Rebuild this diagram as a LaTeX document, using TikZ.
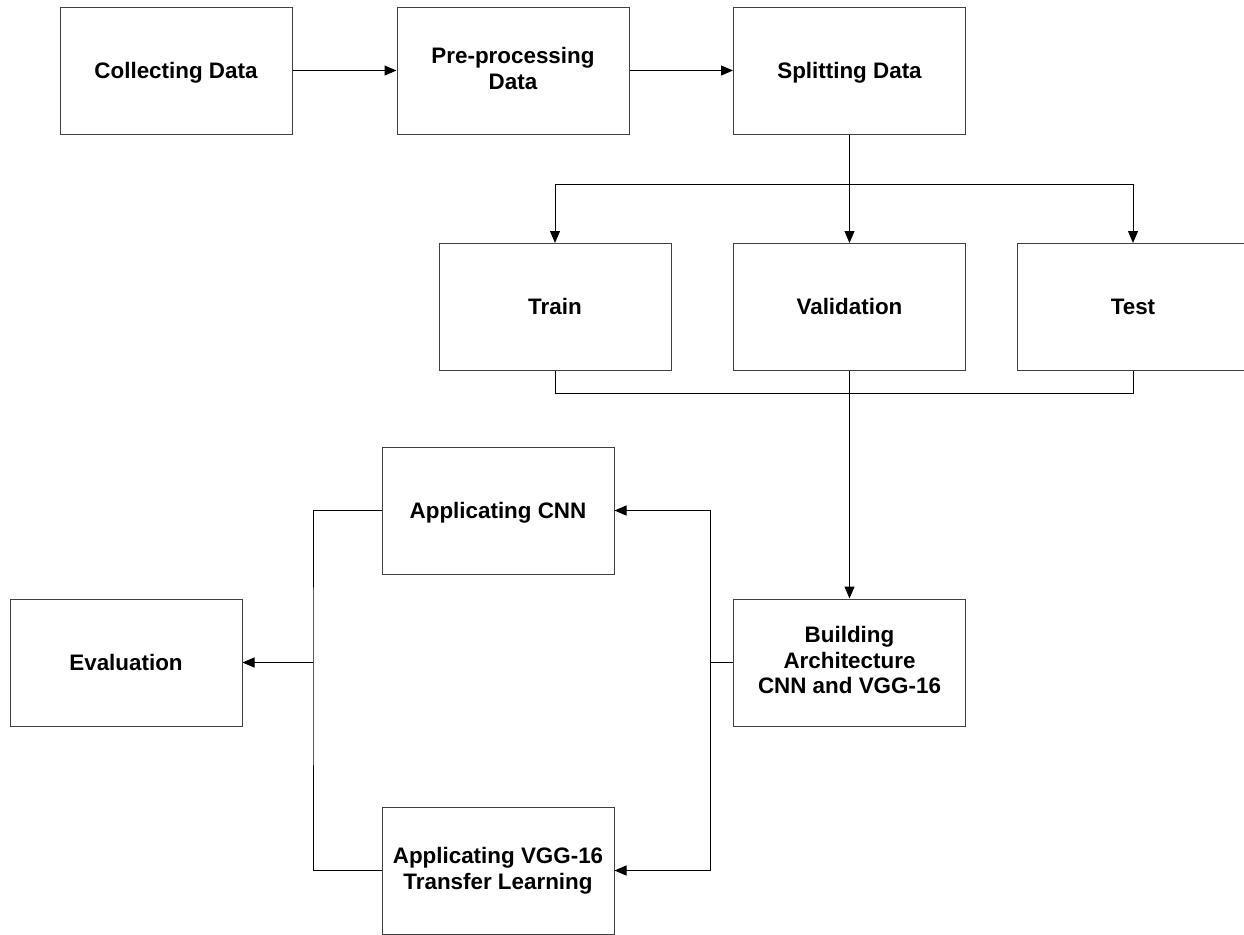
\documentclass[tikz,border=0pt]{standalone}
\usepackage{fontspec}
\setmainfont{Liberation Sans}
\usetikzlibrary{arrows.meta}
\begin{document}
\begin{tikzpicture}[x=0.5pt,y=-0.5pt,
  stage/.style={draw=black!75,line width=0.5pt,minimum width=116pt,minimum height=63.5pt,
    inner sep=0pt,align=center,font=\fontsize{11.2}{12.75}\selectfont\bfseries,
    execute at begin node={\rule{0pt}{0.905em}},
    execute at end node={\rule[-0.212em]{0pt}{0.212em}}},
  flow/.style={-{Triangle[length=6pt,width=5pt]},line width=0.5pt},
  link/.style={line width=0.5pt}]
\useasboundingbox (0,0) rectangle (1244,934);
% top row
\node[stage] (collect) at (176,70.5) {Collecting Data};
\node[stage] (prep) at (513,70.5) {Pre-processing\\Data};
\node[stage] (split) at (849.5,70.5) {Splitting Data};
% data sets
\node[stage] (train) at (555,307) {Train};
\node[stage] (valid) at (849.5,307) {Validation};
\node[stage] (test) at (1133,307) {Test};
% models
\node[stage] (cnn) at (498,510.5) {Applicating CNN};
\node[stage] (build) at (849.5,662.5) {Building\\Architecture\\CNN and VGG-16};
\node[stage] (vgg) at (498,870.5) {Applicating VGG-16\\Transfer Learning};
\node[stage] (eval) at (126,662.5) {Evaluation};
\coordinate (fork) at (849.5,184);
\coordinate (join) at (849.5,393);
\coordinate (rbus) at (710,662.5);
\coordinate (lbus) at (313,662.5);
\draw[flow] (collect) -- (prep);
\draw[flow] (prep) -- (split);
\draw[link] (split.south) -- (fork);
\draw[flow] (fork) -| (train.north);
\draw[flow] (fork) -- (valid.north);
\draw[flow] (fork) -| (test.north);
\draw[link] (train.south) |- (join) -| (test.south);
\draw[flow] (valid.south) -- (build.north);
\draw[link] (build.west) -- (rbus);
\draw[flow] (rbus) |- (cnn.east);
\draw[flow] (rbus) |- (vgg.east);
\draw[link] (cnn.west) -| (lbus) |- (vgg.west);
\draw[flow] (lbus) -- (eval.east);
\end{tikzpicture}
\end{document}
